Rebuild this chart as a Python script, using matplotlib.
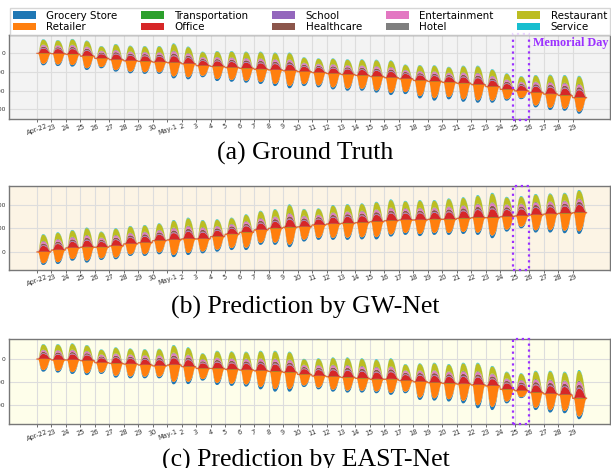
import matplotlib.pyplot as plt
import numpy as np
from matplotlib.patches import Rectangle

categories = ['Grocery Store', 'Retailer', 'Transportation', 'Office', 'School',
              'Healthcare', 'Entertainment', 'Hotel', 'Restaurant', 'Service']
colors = ['#1f77b4', '#ff7f0e', '#2ca02c', '#d62728', '#9467bd',
          '#8c564b', '#e377c2', '#7f7f7f', '#bcbd22', '#17becf']

day_labels = (['Apr-22'] + [str(d) for d in range(23, 31)] +
              ['May-1'] + [str(d) for d in range(2, 30)])

# share of the daily swing taken by each category (below / above the middle line)
share_down = [0.13, 0.87]
share_up = [0.02, 0.32, 0.04, 0.10, 0.10, 0.04, 0.35, 0.03]

hour_shape = [0.03, 0.02, 0.03, 0.10, 0.30, 0.55, 0.75, 0.88, 0.95, 0.99, 1.0, 1.0,
              0.99, 0.97, 0.93, 0.88, 0.81, 0.72, 0.60, 0.45, 0.28, 0.14, 0.06, 0.03]

# (a) ground truth: middle line, top of the bump, bottom of the bump per day
center_a = [0, -2, -5, -15, -27, -34, -40, -43, -47, -50, -56, -66, -70, -76, -80, -85,
            -89, -93, -98, -103, -108, -113, -118, -124, -130, -136, -145, -150, -155,
            -160, -167, -178, -193, -201, -210, -218, -225, -237]
peak_a = [75, 71, 77, 68, 39, 50, 41, 39, 39, 53, 36, 9, 12, 12, 9, 9, 4, 4, -21, -27,
          -27, -32, -32, -34, -38, -60, -63, -64, -72, -66, -66, -85, -107, -122, -116,
          -114, -116, -120]
trough_a = [-64, -68, -71, -89, -80, -98, -107, -110, -110, -134, -139, -128, -148,
            -152, -157, -164, -175, -187, -175, -182, -193, -200, -200, -210, -223, -218,
            -241, -253, -246, -259, -264, -264, -253, -245, -289, -303, -307, -323]

# (b) GW-Net
center_b = [0, 8, 17, 20, 20, 25, 34, 39, 48, 51, 55, 55, 65, 75, 83, 93, 100, 104, 106,
            114, 118, 121, 124, 128, 132, 135, 135, 138, 138, 142, 145, 145, 149, 152,
            156, 160, 163, 166]
peak_b = [75, 83, 93, 103, 86, 100, 110, 114, 121, 135, 145, 135, 138, 145, 159, 174,
          181, 201, 182, 184, 198, 202, 205, 212, 222, 216, 219, 219, 226, 231, 240, 250,
          233, 236, 245, 247, 250, 262]
trough_b = [-55, -51, -37, -45, -34, -31, -17, -17, -10, -22, -13, -6, 1, 8, 8, 30, 30,
            20, 44, 51, 51, 51, 53, 53, 65, 72, 67, 72, 72, 76, 72, 58, 86, 100, 82, 82,
            79, 76]

# (c) EAST-Net
center_c = [0, -4, -4, -7, -16, -19, -22, -26, -30, -26, -33, -41, -41, -45, -48, -51,
            -54, -58, -67, -74, -77, -80, -84, -88, -88, -94, -99, -103, -106, -109,
            -113, -117, -132, -138, -146, -152, -156, -171]
peak_c = [65, 65, 68, 61, 42, 51, 46, 43, 45, 61, 51, 25, 36, 33, 32, 36, 36, 32, 1, 3,
          7, 7, 3, -1, 3, -22, -19, -16, -22, -16, -16, -30, -55, -62, -51, -51, -55, -48]
trough_c = [-55, -59, -65, -70, -65, -81, -84, -84, -84, -110, -109, -94, -113, -117,
            -120, -132, -142, -142, -122, -132, -142, -146, -146, -149, -156, -149, -178,
            -181, -185, -193, -214, -222, -193, -170, -222, -233, -236, -262]

memorial_day = 33
purple = '#9b30ff'


def DrawPanel(ax, center, peak, trough, ylim, yticks, bg, label_memorial=False):
    n = len(center)
    x = np.arange(n * 24) / 24.0
    shape = np.tile(hour_shape, n)
    mid = np.repeat(center, 24)
    up = np.repeat(np.array(peak) - np.array(center), 24) * shape
    down = np.repeat(np.array(center) - np.array(trough), 24) * shape

    handles = []
    lower = mid - down
    layers = [down * s for s in share_down] + [up * s for s in share_up]
    for c, layer, col in zip(categories, layers, colors):
        upper = lower + layer
        h = ax.fill_between(x, lower, upper, facecolor=col, linewidth=0,
                            label=c, zorder=3)
        handles.append(h)
        lower = upper
    # thin middle line that stays visible between the daily bumps
    ax.plot(x, mid, color='#e8552a', linewidth=0.9, alpha=0.8, zorder=2.9)

    ax.set_facecolor(bg)
    ax.set_xlim(-1.91, 39.57)
    ax.set_ylim(*ylim)
    ax.set_xticks(range(n))
    ax.set_xticklabels(day_labels, rotation=20, fontsize=4.8, color='#333333')
    ax.set_yticks(yticks)
    ax.set_yticklabels([str(t) for t in yticks], fontsize=4.3, color='#333333')
    ax.tick_params(axis='y', length=0, pad=2.6)
    ax.tick_params(axis='x', length=2, width=0.6, color='#555555', pad=1)
    ax.grid(True, color='#dddddd', linewidth=0.8, zorder=0)
    ax.set_axisbelow(True)
    for s in ax.spines.values():
        s.set_color('#777777')
        s.set_linewidth(1.0)

    pad = 0.015 if label_memorial else 0.0
    box = Rectangle((memorial_day - 0.1, -pad), 1.05, 1 + 2 * pad,
                    transform=ax.get_xaxis_transform(), fill=False, edgecolor=purple,
                    linestyle=':', linewidth=1.6, clip_on=False, zorder=5)
    ax.add_patch(box)
    if label_memorial:
        ax.text(34.25, 0.899, 'Memorial Day', transform=ax.get_xaxis_transform(),
                ha='left', va='center', fontsize=8.7, fontweight='bold',
                family='Liberation Serif', color=purple)
    return handles


fig = plt.figure(figsize=(6.11, 4.68), dpi=100)
ax_a = fig.add_axes([0.0152, 0.7457, 0.983, 0.1795])
ax_b = fig.add_axes([0.0152, 0.4237, 0.983, 0.1795])
ax_c = fig.add_axes([0.0152, 0.0934, 0.983, 0.1816])

handles = DrawPanel(ax_a, center_a, peak_a, trough_a, (-351, 98), [0, -100, -200, -300],
                    '#f3f3f3', label_memorial=True)
DrawPanel(ax_b, center_b, peak_b, trough_b, (-75, 280), [0, 100, 200], '#fcf4e5')
DrawPanel(ax_c, center_c, peak_c, trough_c, (-284, 86), [0, -100, -200], '#fefeea')

fig.legend(handles=handles, labels=categories, loc='upper left',
           bbox_to_anchor=(10 / 611, 1 - 8 / 468), ncol=5, fontsize=7.4,
           handlelength=2.26, handleheight=0.7, handletextpad=1.0,
           columnspacing=2.3, labelspacing=0.15, borderpad=0.25,
           borderaxespad=0, frameon=True, edgecolor='#cccccc', fancybox=False)

cap = dict(ha='center', va='center', fontsize=18.5, family='Liberation Serif')
fig.text(0.5, 1 - 153.5 / 468, '(a) Ground Truth', **cap)
fig.text(0.5, 1 - 307 / 468, '(b) Prediction by GW-Net', **cap)
fig.text(0.5, 1 - 460 / 468, '(c) Prediction by EAST-Net', **cap)

fig.savefig('out.png', dpi=100)
